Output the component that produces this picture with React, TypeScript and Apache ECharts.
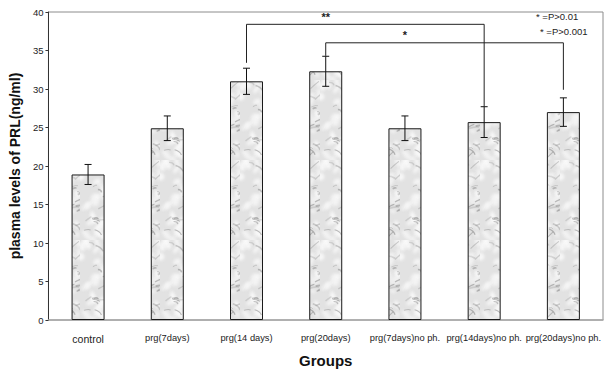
import React, { useEffect, useRef } from "react";
import * as echarts from "echarts";

const categories = [
  "control",
  "prg(7days)",
  "prg(14 days)",
  "prg(20days)",
  "prg(7days)no ph.",
  "prg(14days)no ph.",
  "prg(20days)no ph.",
];
const means = [18.9, 24.9, 31.0, 32.3, 24.9, 25.7, 27.0];
const errors = [1.3, 1.6, 1.7, 1.95, 1.6, 2.0, 1.85];
const yTicks = [0, 5, 10, 15, 20, 25, 30, 35, 40];
// brackets: [fromIdx, toIdx, lineY, leftEndY, rightEndY, labelIdx, label]
const brackets: [number, number, number, number, number, number, string][] = [
  [2, 5, 38.4, 33.4, 27.7, 3.0, "**"],
  [3, 6, 36.0, 34.3, 29.9, 4.37, "*"],
];
const legendLines = ["* =P>0.01", "* =P>0.001"];

function makeTexture(): HTMLCanvasElement {
  const c = document.createElement("canvas");
  c.width = 40;
  c.height = 80;
  const ctx = c.getContext("2d")!;
  ctx.fillStyle = "#e2e2e2";
  ctx.fillRect(0, 0, c.width, c.height);
  const h = (n: number) => {
    const s = Math.sin(n * 12.9898) * 43758.5453;
    return s - Math.floor(s);
  };
  ctx.filter = "blur(1.5px)";
  for (let i = 0; i < 40; i++) {
    ctx.fillStyle = `rgba(250,250,250,${0.5 + h(i + 901) * 0.4})`;
    ctx.beginPath();
    ctx.ellipse(h(i + 1) * 40, h(i + 101) * 80, 2 + h(i + 201) * 5, 1.5 + h(i + 251) * 3, h(i + 271) * 3, 0, Math.PI * 2);
    ctx.fill();
  }
  ctx.filter = "blur(0.6px)";
  for (let i = 0; i < 34; i++) {
    const x = h(i + 301) * 40;
    const y = h(i + 401) * 80;
    const a = -0.8 + h(i + 501) * 1.6;
    const l = 3 + h(i + 601) * 8;
    ctx.strokeStyle = `rgba(140,140,140,${0.25 + h(i + 701) * 0.35})`;
    ctx.lineWidth = 0.8 + h(i + 801) * 1;
    ctx.beginPath();
    ctx.moveTo(x, y);
    ctx.quadraticCurveTo(
      x + Math.cos(a) * l * 0.5 + 1.5,
      y + Math.sin(a) * l * 0.5 - 1.5,
      x + Math.cos(a) * l,
      y + Math.sin(a) * l
    );
    ctx.stroke();
  }
  ctx.filter = "none";
  return c;
}

export default function App() {
  const ref = useRef<HTMLDivElement>(null);
  useEffect(() => {
    if (!ref.current) return;
    const chart = echarts.init(ref.current, undefined, { renderer: "svg" });
    const texture = makeTexture();
    const font = "Liberation Sans, Arial, sans-serif";
    chart.setOption({
      animation: false,
      backgroundColor: "#ffffff",
      textStyle: { fontFamily: font },
      grid: {
        left: 46,
        right: 10,
        top: 12,
        bottom: 54,
        show: true,
        borderColor: "#8c8c8c",
        borderWidth: 1,
        containLabel: false,
      },
      xAxis: {
        type: "category",
        data: categories,
        name: "Groups",
        nameLocation: "middle",
        nameGap: 33,
        nameTextStyle: { fontSize: 15, fontWeight: "bold", color: "#111", fontFamily: font },
        axisLine: { show: true, lineStyle: { color: "#a8a8a8", width: 1.5 } },
        axisTick: { show: false },
        axisLabel: {
          interval: 0,
          margin: 13,
          fontSize: 9.3,
          color: "#222",
          fontFamily: font,
          formatter: (v: string) => (v === "control" ? "{c|" + v + "}" : v),
          rich: { c: { fontSize: 10.5, color: "#222", fontFamily: font } },
        },
      },
      yAxis: {
        type: "value",
        min: yTicks[0],
        max: yTicks[yTicks.length - 1],
        interval: 5,
        name: "plasma levels of PRL(ng/ml)",
        nameLocation: "middle",
        nameGap: 26,
        nameTextStyle: { fontSize: 14, fontWeight: "bold", color: "#111", fontFamily: font },
        axisLine: { show: true, lineStyle: { color: "#333", width: 1 } },
        axisTick: { show: true, length: 3, lineStyle: { color: "#333" } },
        axisLabel: { fontSize: 9.5, color: "#222", margin: 5, fontFamily: font },
        splitLine: { show: false },
      },
      series: [
        {
          type: "bar",
          data: means,
          barWidth: 33,
          itemStyle: {
            color: { image: texture, repeat: "repeat" } as any,
            borderColor: "#1a1a1a",
            borderWidth: 1,
          },
          z: 2,
        },
        {
          type: "custom",
          data: means.map((m, i) => [i, m - errors[i], m + errors[i]]),
          renderItem: (params: any, api: any) => {
            const x = api.value(0);
            const lo = api.coord([x, api.value(1)]);
            const hi = api.coord([x, api.value(2)]);
            const cw = 3.5;
            const st = { stroke: "#111", lineWidth: 1 };
            return {
              type: "group",
              children: [
                { type: "line", shape: { x1: lo[0], y1: lo[1], x2: hi[0], y2: hi[1] }, style: st },
                { type: "line", shape: { x1: lo[0] - cw, y1: lo[1], x2: lo[0] + cw, y2: lo[1] }, style: st },
                { type: "line", shape: { x1: hi[0] - cw, y1: hi[1], x2: hi[0] + cw, y2: hi[1] }, style: st },
              ],
            };
          },
          z: 3,
        },
        {
          type: "custom",
          data: brackets.map((b) => [b[0], b[1], b[2], b[3], b[4], b[5]]),
          renderItem: (params: any, api: any) => {
            const b = brackets[params.dataIndex];
            const p1 = api.coord([b[0], b[2]]);
            const p2 = api.coord([b[1], b[2]]);
            const l = api.coord([b[0], b[3]]);
            const r = api.coord([b[1], b[4]]);
            const t = api.coord([b[5], b[2]]);
            const st = { stroke: "#222", lineWidth: 1, fill: null };
            return {
              type: "group",
              children: [
                {
                  type: "polyline",
                  shape: { points: [[l[0], l[1]], [p1[0], p1[1]], [p2[0], p2[1]], [r[0], r[1]]] },
                  style: st,
                },
                {
                  type: "text",
                  x: t[0],
                  y: t[1] - 2,
                  style: {
                    text: b[6],
                    fill: "#222",
                    font: "bold 11px " + font,
                    align: "center",
                    verticalAlign: "bottom",
                  },
                },
              ],
            };
          },
          z: 4,
        },
      ],
      graphic: [
        {
          type: "text",
          left: 536,
          top: 11,
          style: { text: legendLines[0], fill: "#222", font: "9.5px " + font },
        },
        {
          type: "text",
          left: 540,
          top: 26,
          style: { text: legendLines[1], fill: "#222", font: "9.5px " + font },
        },
      ],
    });
    return () => chart.dispose();
  }, []);
  return (
    <div
      ref={ref}
      style={{ position: "fixed", left: 0, top: 0, width: 613, height: 374, background: "#fff" }}
    />
  );
}
